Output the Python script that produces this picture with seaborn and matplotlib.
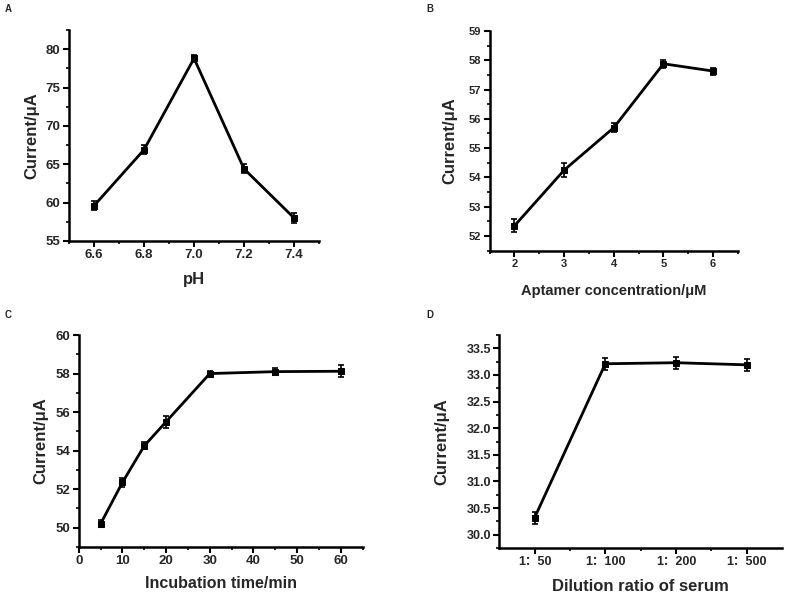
import numpy as np
import pandas as pd
import seaborn as sns
import matplotlib.pyplot as plt
from matplotlib.ticker import MultipleLocator, FixedLocator

sns.set_theme(style="ticks")
plt.rcParams['font.family'] = ['Liberation Sans', 'Noto Sans CJK SC', 'DejaVu Sans']
plt.rcParams['font.weight'] = 'bold'

# A - pH
ph = [6.6, 6.8, 7.0, 7.2, 7.4]
ph_cur = [59.6, 66.9, 78.8, 64.4, 58.0]
ph_err = [0.6, 0.6, 0.5, 0.6, 0.7]

# B - aptamer concentration
apt = [2, 3, 4, 5, 6]
apt_cur = [52.35, 54.25, 55.7, 57.88, 57.63]
apt_err = [0.22, 0.25, 0.16, 0.14, 0.12]

# C - incubation time
inc = [5, 10, 15, 20, 30, 45, 60]
inc_cur = [50.2, 52.35, 54.25, 55.5, 58.0, 58.1, 58.12]
inc_err = [0.18, 0.22, 0.18, 0.32, 0.15, 0.18, 0.3]

# D - dilution ratio
dil = ['1：50', '1：100', '1：200', '1：500']
dil_cur = [30.32, 33.21, 33.23, 33.19]
dil_err = [0.11, 0.11, 0.11, 0.11]

fig = plt.figure(figsize=(7.88, 5.94), dpi=100)
axA = fig.add_axes([0.0876, 0.5943, 0.3173, 0.3552])
axB = fig.add_axes([0.6214, 0.578, 0.3151, 0.3699])
axC = fig.add_axes([0.0999, 0.0791, 0.3604, 0.3569])
axD = fig.add_axes([0.6336, 0.0774, 0.3588, 0.3586])


def draw(ax, x, y, err, xpos=None):
    df = pd.DataFrame({'x': x, 'y': y})
    sns.lineplot(data=df, x='x', y='y', ax=ax, color='black', lw=2,
                 marker='s', markersize=5, markeredgecolor='black', sort=False)
    px = np.arange(len(x)) if xpos is None else x
    ax.errorbar(px, y, yerr=err, fmt='none', ecolor='black', elinewidth=1.2,
                capsize=2.5, capthick=1.2)
    sns.despine(ax=ax)
    for s in ['left', 'bottom']:
        ax.spines[s].set_linewidth(1.8)
        ax.spines[s].set_color('black')
    ax.tick_params(which='major', direction='out', length=4, width=1.5, color='black', pad=2)
    ax.tick_params(which='minor', direction='out', length=2.5, width=1.2, color='black')


# A
draw(axA, ph, ph_cur, ph_err, xpos=True)
axA.set_xlim(6.5, 7.5)
axA.set_ylim(55, 82.5)
axA.xaxis.set_major_locator(FixedLocator(ph))
axA.xaxis.set_minor_locator(MultipleLocator(0.1))
axA.yaxis.set_major_locator(MultipleLocator(5))
axA.yaxis.set_minor_locator(MultipleLocator(2.5))
axA.tick_params(labelsize=9.5)
axA.set_xlabel('pH', fontsize=12, fontweight='bold', labelpad=8)
axA.set_ylabel('Current/μA', fontsize=12, fontweight='bold', labelpad=5)

# B
draw(axB, apt, apt_cur, apt_err, xpos=True)
axB.set_xlim(1.5, 6.5)
axB.set_ylim(51.5, 59)
axB.xaxis.set_major_locator(MultipleLocator(1))
axB.xaxis.set_minor_locator(MultipleLocator(0.5))
axB.yaxis.set_major_locator(MultipleLocator(1))
axB.yaxis.set_minor_locator(MultipleLocator(0.5))
axB.tick_params(labelsize=8)
axB.set_xlabel('Aptamer concentration/μM', fontsize=10.5, fontweight='bold', labelpad=11)
axB.set_ylabel('Current/μA', fontsize=12, fontweight='bold', labelpad=8)

# C
draw(axC, inc, inc_cur, inc_err, xpos=True)
axC.set_xlim(0, 65)
axC.set_ylim(49, 60)
axC.xaxis.set_major_locator(MultipleLocator(10))
axC.xaxis.set_minor_locator(MultipleLocator(5))
axC.yaxis.set_major_locator(MultipleLocator(2))
axC.yaxis.set_minor_locator(MultipleLocator(1))
axC.tick_params(labelsize=9.5)
axC.set_xlabel('Incubation time/min', fontsize=11.5, fontweight='bold', labelpad=6)
axC.set_ylabel('Current/μA', fontsize=12, fontweight='bold', labelpad=5)

# D
draw(axD, dil, dil_cur, dil_err)
axD.set_xlim(-0.5, 3.5)
axD.set_ylim(29.75, 33.75)
axD.xaxis.set_major_locator(FixedLocator(range(len(dil))))
axD.set_xticklabels(dil)
axD.xaxis.set_minor_locator(FixedLocator([0.5, 1.5, 2.5]))
axD.yaxis.set_major_locator(MultipleLocator(0.5))
axD.yaxis.set_minor_locator(MultipleLocator(0.25))
axD.yaxis.set_major_formatter('{x:.1f}')
axD.tick_params(labelsize=9)
axD.set_xlabel('Dilution ratio of serum', fontsize=12, fontweight='bold', labelpad=8)
axD.set_ylabel('Current/μA', fontsize=12, fontweight='bold', labelpad=12)

for ax in [axA, axB, axC, axD]:
    for lab in ax.get_xticklabels() + ax.get_yticklabels():
        lab.set_fontweight('bold')

fig.text(5 / 788, 1 - 9 / 594, 'A', fontsize=7, fontweight='bold', va='center')
fig.text(426 / 788, 1 - 9 / 594, 'B', fontsize=7, fontweight='bold', va='center')
fig.text(5 / 788, 1 - 315 / 594, 'C', fontsize=7, fontweight='bold', va='center')
fig.text(426 / 788, 1 - 315 / 594, 'D', fontsize=7, fontweight='bold', va='center')

fig.savefig('out.png', dpi=100)
